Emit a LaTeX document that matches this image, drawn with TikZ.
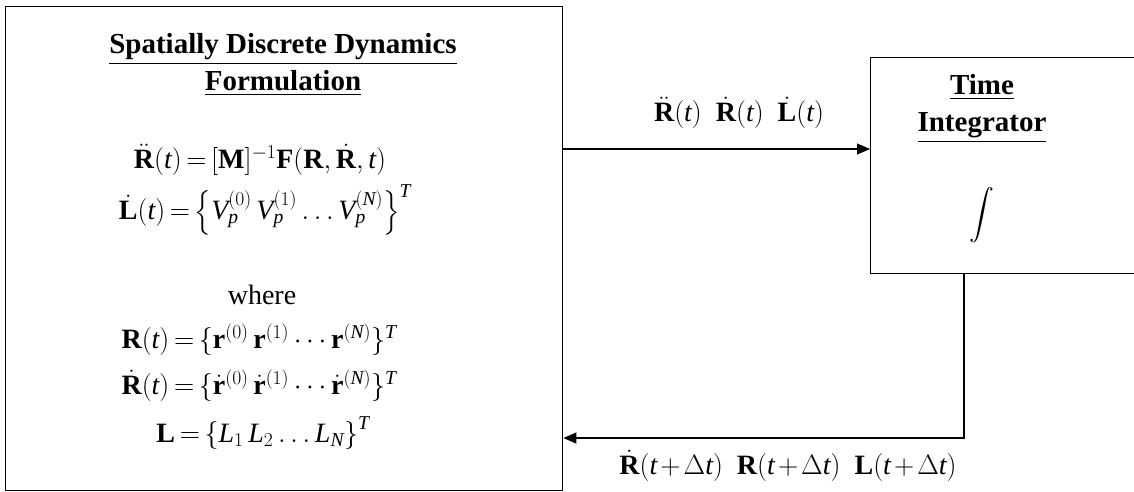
\RequirePackage{fix-cm}
\documentclass[tikz,border=0pt]{standalone}
\usepackage{amsmath}
\usepackage{fontspec}
\setmainfont{Liberation Serif}
\usetikzlibrary{arrows.meta}
\newcommand{\mi}[1]{\mathit{#1}}
\newcommand{\bR}{\mathbf{R}}
\newcommand{\tightmath}{\thickmuskip=3mu\relax\medmuskip=2mu\relax}
\tikzset{
  box/.style={draw, line width=1.4pt, rectangle, anchor=north west, inner sep=0pt},
  conn/.style={line width=1.2pt, -{Triangle[length=13pt,width=11pt]}},
  ttl/.style={font=\fontsize{29}{37}\selectfont\bfseries, align=center},
  eq/.style={font=\fontsize{28}{32}\selectfont\tightmath}
}
\begin{document}
\begin{tikzpicture}[x=1pt,y=-1pt]
\useasboundingbox (0,0) rectangle (1134,492);
\node[box, minimum width=557pt, minimum height=484pt] (left) at (5,6) {};
\node[box, minimum width=272pt, minimum height=216pt] (right) at (870,57) {};
\node[ttl] (ttlL) at (283,65) {\underline{Spatially Discrete Dynamics}\\\underline{Formulation}};
\node[eq] (e1) at (260,160) {$\ddot{\bR}(\mi{t})=[\mathbf{M}]^{-1}\mathbf{F}(\bR,\dot{\bR},\mi{t})$};
\node[eq] (e2) at (265,210) {$\dot{\mathbf{L}}(\mi{t})=\left\{\mi{V}_{\mi{p}}^{(0)}\,\mi{V}_{\mi{p}}^{(1)}\ldots \mi{V}_{\mi{p}}^{(\mi{N})}\right\}^{\mi{T}}$};
\node[eq] (w) at (262,295) {where};
\node[eq] (e3) at (259,340) {$\bR(\mi{t})=\{\mathbf{r}^{(0)}\;\mathbf{r}^{(1)}\cdots\mathbf{r}^{(\mi{N})}\}^{\mi{T}}$};
\node[eq] (e4) at (259,386) {$\dot{\bR}(\mi{t})=\{\dot{\mathbf{r}}^{(0)}\;\dot{\mathbf{r}}^{(1)}\cdots\dot{\mathbf{r}}^{(\mi{N})}\}^{\mi{T}}$};
\node[eq] (e5) at (263,433) {$\mathbf{L}=\left\{\mi{L}_1\,\mi{L}_2\ldots \mi{L}_{\mi{N}}\right\}^{\mi{T}}$};
\node[ttl] (ttlR) at (982,109) {\underline{Time}\\\underline{Integrator}};
\node[eq] (int) at (982,215) {$\displaystyle\int$};
\node[eq] (lab1) at (739,113) {$\ddot{\bR}(\mi{t})\enspace\dot{\bR}(\mi{t})\enspace\dot{\mathbf{L}}(\mi{t})$};
\node[eq] (lab2) at (788,466) {$\dot{\bR}(\mi{t}+\Delta \mi{t})\enspace\bR(\mi{t}+\Delta \mi{t})\enspace\mathbf{L}(\mi{t}+\Delta \mi{t})$};
\coordinate (a) at (0,149);
\coordinate (b) at (964,438);
\draw[conn] (left.east |- a) -- (right.west |- a);
\draw[conn] (right.south -| b) |- (left.east |- b);
\end{tikzpicture}
\end{document}
